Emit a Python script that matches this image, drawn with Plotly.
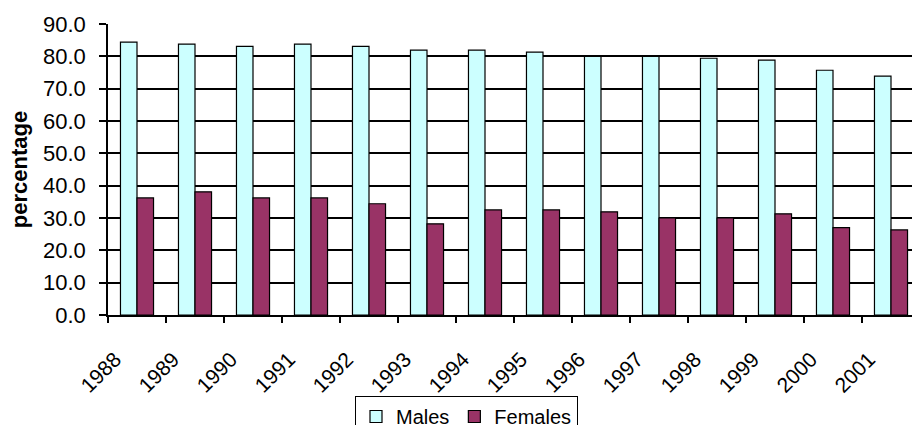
import plotly.graph_objects as go

# Participation rates by year
years = ["1988", "1989", "1990", "1991", "1992", "1993", "1994",
         "1995", "1996", "1997", "1998", "1999", "2000", "2001"]
males = [84.4, 83.8, 83.1, 83.8, 83.1, 81.9, 81.9,
         81.3, 80.0, 80.0, 79.4, 78.8, 75.7, 73.9]
females = [36.2, 38.1, 36.2, 36.2, 34.4, 28.2, 32.5,
           32.5, 31.9, 30.0, 30.0, 31.3, 27.0, 26.3]
y_ticks = [0, 10, 20, 30, 40, 50, 60, 70, 80, 90]

FONT = "Liberation Sans, Arial, sans-serif"

fig = go.Figure()
fig.add_trace(go.Bar(
    x=years, y=males, name="Males",
    marker=dict(color="#CCFFFF", line=dict(color="black", width=1.2)),
))
fig.add_trace(go.Bar(
    x=years, y=females, name="Females",
    marker=dict(color="#993366", line=dict(color="black", width=1.2)),
))

fig.update_layout(
    width=912, height=425,
    margin=dict(l=108, r=0, t=24, b=110, autoexpand=False),
    paper_bgcolor="white", plot_bgcolor="white",
    barmode="group", bargap=0.43, bargroupgap=0,
    font=dict(family=FONT, color="black", size=20),
    showlegend=True,
    legend=dict(
        orientation="h", x=(355 - 108) / 804, xanchor="left",
        y=(315 - 396) / 291, yanchor="top",
        bordercolor="black", borderwidth=1,
        font=dict(family=FONT, size=20, color="black"),
        itemwidth=30, tracegroupgap=0,
    ),
)

fig.update_xaxes(
    type="category", range=[-0.5, 13.362],
    showline=True, linecolor="black", linewidth=1.5,
    ticks="outside", tickson="boundaries", ticklen=6,
    tickcolor="black", tickwidth=1.5,
    tickangle=-45, ticklabelshift=-22, ticklabelstandoff=22,
    tickfont=dict(family=FONT, size=21, color="black"),
    showgrid=False, zeroline=False,
)

fig.update_yaxes(
    range=[0, 90], tickvals=y_ticks, tickformat=".1f",
    showline=True, linecolor="black", linewidth=1.5,
    ticks="outside", ticklen=7, tickcolor="black", tickwidth=1.5,
    ticklabelstandoff=9,
    tickfont=dict(family=FONT, size=22, color="black"),
    showgrid=True, gridcolor="#000000", gridwidth=1.5,
    zeroline=False,
    title=dict(text="<b>percentage</b>", standoff=9,
               font=dict(family=FONT, size=22, color="black")),
)

fig.write_html("out.html")
